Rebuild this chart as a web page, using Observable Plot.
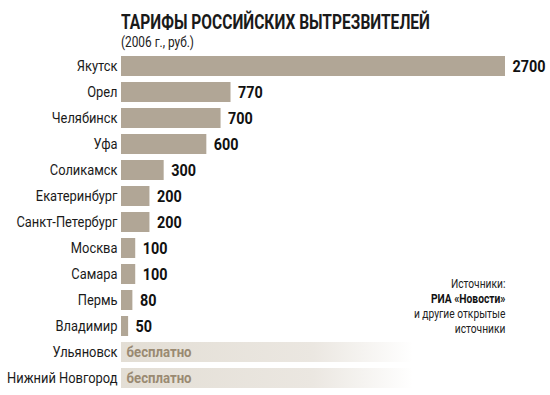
<!DOCTYPE html>
<html>
<head>
<meta charset="utf-8">
<script src="https://cdn.jsdelivr.net/npm/d3@7"></script>
<script src="https://cdn.jsdelivr.net/npm/@observablehq/plot@0.6"></script>
<style>
  html, body { margin: 0; padding: 0; background: #fff; }
  #wrap { position: relative; width: 550px; height: 395px; overflow: hidden; }
  #title { position: absolute; top: 10px; left: 121px; white-space: nowrap;
    font-family: Roboto, sans-serif; font-weight: bold; font-size: 20px; color: #1a1a1a;
    transform-origin: 0 0; line-height: 24px; }
  #subtitle { position: absolute; top: 34px; left: 121px; white-space: nowrap;
    font-family: Roboto, sans-serif; font-size: 14.5px; color: #222;
    transform-origin: 0 0; line-height: 18px; }
  #chart { position: absolute; left: 0; top: 52px; }
  #source { position: absolute; right: 45px; top: 276px; text-align: right;
    font-family: Roboto, sans-serif; font-size: 12.8px; line-height: 15px; color: #222;
    transform-origin: 100% 0; transform: scaleX(0.8); white-space: nowrap; }
  #source b { color: #111; }
</style>
</head>
<body>
<div id="wrap">
  <div id="title">ТАРИФЫ РОССИЙСКИХ ВЫТРЕЗВИТЕЛЕЙ</div>
  <div id="subtitle">(2006 г., руб.)</div>
  <div id="chart"></div>
  <div id="source">Источники:<br><b>РИА «Новости»</b><br>и другие открытые<br>источники</div>
</div>
<script>
const cities = ["Якутск", "Орел", "Челябинск", "Уфа", "Соликамск", "Екатеринбург",
  "Санкт-Петербург", "Москва", "Самара", "Пермь", "Владимир", "Ульяновск", "Нижний Новгород"];
const tariffs = [2700, 770, 700, 600, 300, 200, 200, 100, 100, 80, 50, null, null];
const freeLabel = "бесплатно";

const data = cities.map((c, i) => ({city: c, value: tariffs[i]}));
const paid = data.filter(d => d.value != null);
const free = data.filter(d => d.value == null);
const xMax = d3.max(tariffs);

const font = "Roboto, sans-serif";

const gradientDefs = () => {
  const defs = d3.create("svg:defs");
  const g = defs.append("linearGradient").attr("id", "freeGrad")
    .attr("x1", "0").attr("x2", "1").attr("y1", "0").attr("y2", "0");
  g.append("stop").attr("offset", "0").attr("stop-color", "#e3ded5");
  g.append("stop").attr("offset", "0.5").attr("stop-color", "#ebe7e1");
  g.append("stop").attr("offset", "0.76").attr("stop-color", "#ffffff");
  return defs.node();
};

const chart = Plot.plot({
  width: 550,
  height: 343,
  marginLeft: 121,
  marginRight: 45,
  marginTop: 0,
  marginBottom: 3,
  style: {fontFamily: font, background: "transparent"},
  x: {domain: [0, xMax], axis: null},
  y: {domain: cities, paddingInner: 0.24, paddingOuter: 0.12, axis: null},
  marks: [
    gradientDefs,
    Plot.barX(free, {y: "city", x1: 0, x2: () => xMax, fill: "url(#freeGrad)"}),
    Plot.barX(paid, {y: "city", x: "value", fill: "#b1a696"}),
    Plot.text(data, {y: "city", x: 0, text: "city", textAnchor: "end", dx: -4,
      fontSize: 15, fill: "#1a1a1a", className: "cond-label"}),
    Plot.text(paid, {y: "city", x: "value", text: d => String(d.value), textAnchor: "start", dx: 7,
      fontSize: 16, fontWeight: "bold", fill: "#111", className: "cond-value"}),
    Plot.text(free, {y: "city", x: 0, text: () => freeLabel, textAnchor: "start", dx: 5,
      fontSize: 15, fontWeight: "bold", fill: "#9a8a72", className: "cond-free"})
  ]
});
document.getElementById("chart").appendChild(chart);

// condensed look: narrow each text horizontally around its anchor
const squeeze = (cls, k) => chart.querySelectorAll(`g.${cls} text`).forEach(t => {
  const tr = t.getAttribute("transform") || "";
  t.setAttribute("transform", `${tr} scale(${k},1)`);
});
squeeze("cond-label", 0.86);
squeeze("cond-value", 0.9);
squeeze("cond-free", 0.88);

// fit title and subtitle to the reference widths
const fit = (id, w) => {
  const el = document.getElementById(id);
  const cur = el.getBoundingClientRect().width;
  el.style.transform = `scaleX(${w / cur})`;
};
fit("title", 309);
fit("subtitle", 73);
</script>
</body>
</html>
